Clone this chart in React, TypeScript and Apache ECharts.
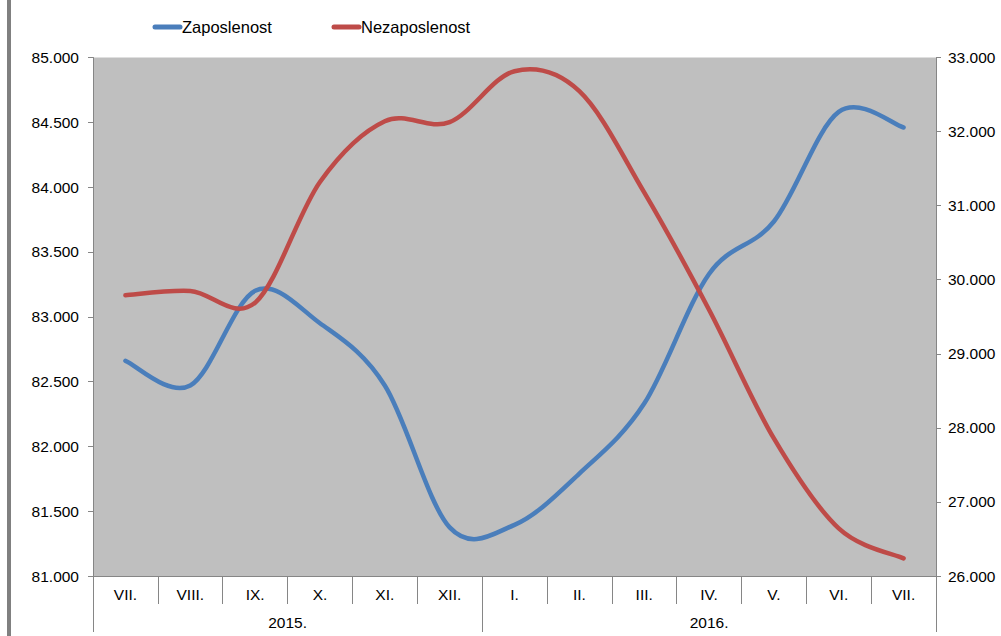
import React, { useEffect, useRef } from "react";
import * as echarts from "echarts";

const months = ["VII.", "VIII.", "IX.", "X.", "XI.", "XII.", "I.", "II.", "III.", "IV.", "V.", "VI.", "VII."];
const years = ["2015.", "2016."];
const yearSpans = [6, 7];
const zaposlenost = [82660, 82470, 83200, 82950, 82470, 81375, 81395, 81790, 82330, 83330, 83735, 84580, 84460];
const nezaposlenost = [29790, 29848, 29690, 31320, 32140, 32127, 32815, 32545, 31180, 29595, 27857, 26643, 26238];
const seriesNames = ["Zaposlenost", "Nezaposlenost"];
const colors = ["#4A7EBB", "#BE4B48"];

const FONT = "'Liberation Sans', Arial, sans-serif";

// Excel-like smoothed line (Catmull-Rom as cubic Bezier) through points mapped by the axes
function smoothPath(pts: number[][]): string {
  let d = `M${pts[0][0]},${pts[0][1]}`;
  for (let i = 0; i < pts.length - 1; i++) {
    const p0 = pts[i - 1] || pts[i];
    const p1 = pts[i];
    const p2 = pts[i + 1];
    const p3 = pts[i + 2] || pts[i + 1];
    const c1x = p1[0] + (p2[0] - p0[0]) / 6;
    const c1y = p1[1] + (p2[1] - p0[1]) / 6;
    const c2x = p2[0] - (p3[0] - p1[0]) / 6;
    const c2y = p2[1] - (p3[1] - p1[1]) / 6;
    d += ` C${c1x},${c1y} ${c2x},${c2y} ${p2[0]},${p2[1]}`;
  }
  return d;
}

function makeSeries(name: string, values: number[], yAxisIndex: number, color: string) {
  const data = values.map((v, i) => [i, v]);
  return {
    name,
    type: "custom",
    coordinateSystem: "cartesian2d",
    xAxisIndex: 0,
    yAxisIndex,
    data,
    clip: false,
    renderItem: (params: any, api: any) => {
      if (params.dataIndex !== 0) return null;
      const pts = data.map((d) => api.coord(d));
      return {
        type: "path",
        shape: { pathData: smoothPath(pts) },
        style: { stroke: color, lineWidth: 4.5, fill: "none", lineCap: "round", lineJoin: "round" },
      };
    },
  };
}

export default function App() {
  const ref = useRef<HTMLDivElement>(null);
  useEffect(() => {
    if (!ref.current) return;
    const chart = echarts.init(ref.current, undefined, { renderer: "svg" });

    const total = months.length;
    const halfSlots: string[] = new Array(total * 2 + 1).fill("");
    const tickIdx: number[] = [0];
    let acc = 0;
    years.forEach((y, i) => {
      const center = acc + yearSpans[i] / 2;
      halfSlots[Math.round(center * 2)] = y;
      acc += yearSpans[i];
      tickIdx.push(acc * 2);
    });

    const fmt = (v: number) => (v / 1000).toFixed(3);
    const axisGray = "#868686";
    const AX = 15.5;

    chart.setOption({
      animation: false,
      grid: {
        left: 93,
        right: 65,
        top: 57.5,
        bottom: 60,
        show: true,
        backgroundColor: "#BFBFBF",
        borderWidth: 0,
      },
      graphic: [
        { type: "rect", shape: { x: 7, y: 0, width: 4, height: 636 }, style: { fill: "#808080" } },
        {
          type: "line",
          shape: { x1: 155, y1: 27, x2: 180, y2: 27 },
          style: { stroke: colors[0], lineWidth: 5, lineCap: "round" },
        },
        {
          type: "text",
          x: 182,
          y: 27,
          style: { text: seriesNames[0], font: `16.5px ${FONT}`, fill: "#000", verticalAlign: "middle" },
        },
        {
          type: "line",
          shape: { x1: 334, y1: 27, x2: 359, y2: 27 },
          style: { stroke: colors[1], lineWidth: 5, lineCap: "round" },
        },
        {
          type: "text",
          x: 361,
          y: 27,
          style: { text: seriesNames[1], font: `16.5px ${FONT}`, fill: "#000", verticalAlign: "middle" },
        },
      ],
      xAxis: [
        {
          type: "category",
          data: months,
          boundaryGap: true,
          position: "bottom",
          axisLine: { show: true, lineStyle: { color: axisGray, width: 1 } },
          axisTick: { show: true, interval: 0, length: 28, lineStyle: { color: axisGray } },
          axisLabel: { interval: 0, margin: 10, color: "#000", fontSize: AX, fontFamily: FONT },
          splitLine: { show: false },
        },
        {
          type: "category",
          data: halfSlots,
          boundaryGap: false,
          position: "bottom",
          axisLine: { show: false },
          axisTick: {
            show: true,
            length: 56,
            interval: (i: number) => tickIdx.includes(i),
            lineStyle: { color: axisGray },
          },
          axisLabel: {
            interval: (_i: number, v: string) => v !== "",
            margin: 38,
            color: "#000",
            fontSize: AX,
            fontFamily: FONT,
          },
          splitLine: { show: false },
        },
      ],
      yAxis: [
        {
          type: "value",
          position: "left",
          min: 81000,
          max: 85000,
          interval: 500,
          axisLine: { show: true, lineStyle: { color: axisGray } },
          axisTick: { show: true, length: 5, lineStyle: { color: axisGray } },
          axisLabel: { formatter: fmt, margin: 14, color: "#000", fontSize: AX, fontFamily: FONT },
          splitLine: { show: false },
        },
        {
          type: "value",
          position: "right",
          min: 26000,
          max: 33000,
          interval: 1000,
          axisLine: { show: true, lineStyle: { color: axisGray } },
          axisTick: { show: true, length: 5, lineStyle: { color: axisGray } },
          axisLabel: { formatter: fmt, margin: 12, color: "#000", fontSize: AX, fontFamily: FONT },
          splitLine: { show: false },
        },
      ],
      series: [
        makeSeries(seriesNames[0], zaposlenost, 0, colors[0]),
        makeSeries(seriesNames[1], nezaposlenost, 1, colors[1]),
      ],
    });
    return () => chart.dispose();
  }, []);
  return (
    <div
      ref={ref}
      style={{ position: "absolute", left: 0, top: 0, width: 1001, height: 636, background: "#fff" }}
    />
  );
}
